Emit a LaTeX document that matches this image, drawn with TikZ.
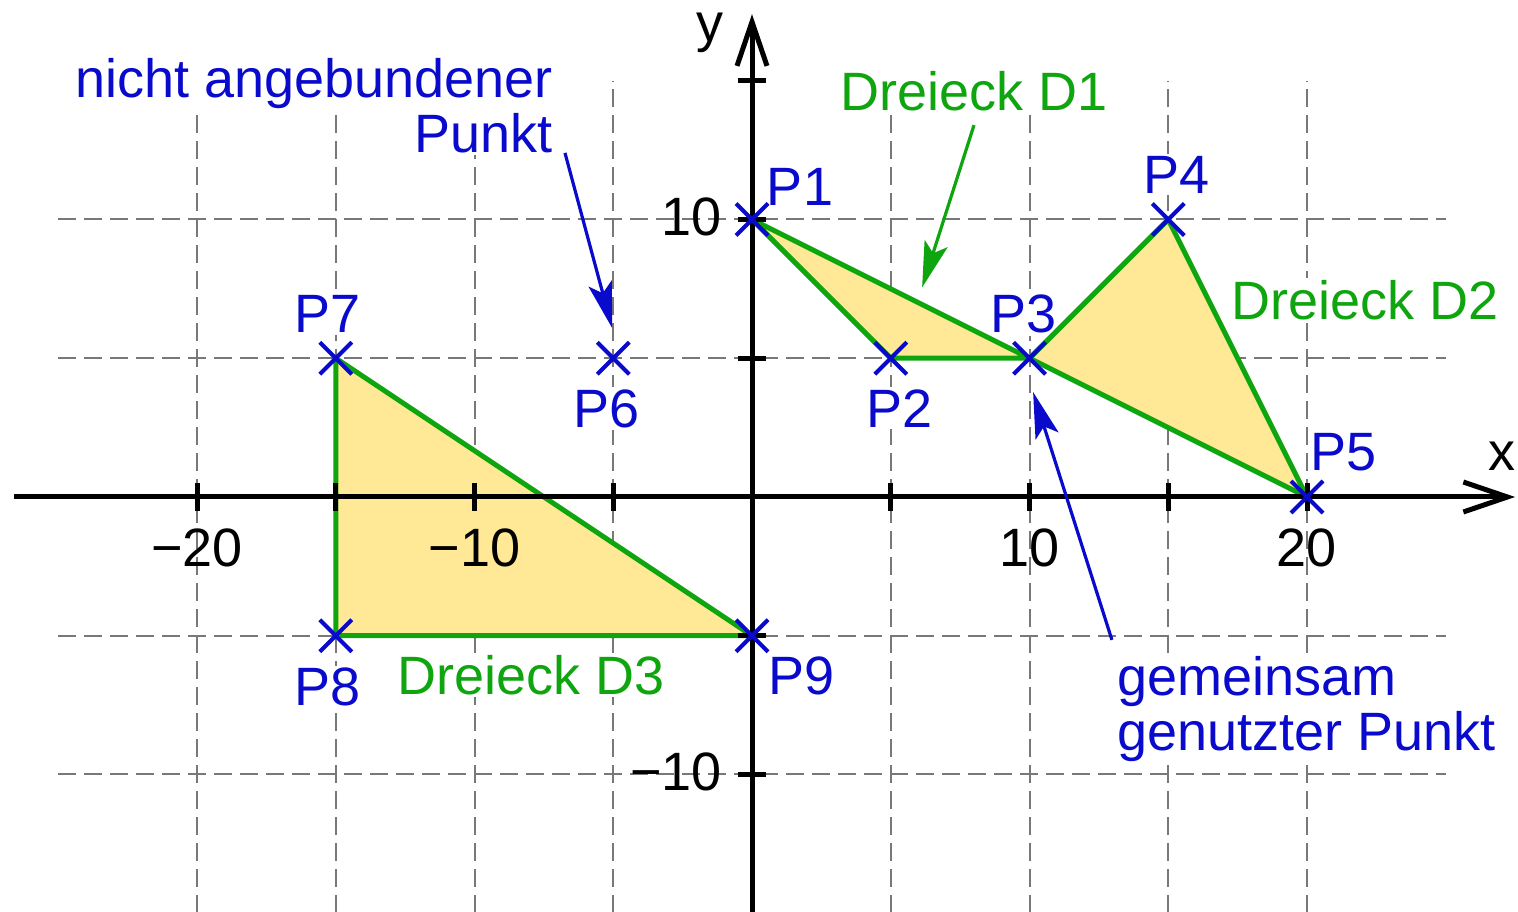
\documentclass[tikz,border=0pt]{standalone}
\usepackage{fontspec}
\setmainfont{Liberation Sans}
\usetikzlibrary{arrows.meta,shapes.misc}
\definecolor{pblue}{RGB}{10,10,205}
\definecolor{dgreen}{RGB}{15,165,15}
\definecolor{tfill}{RGB}{255,232,150}
\definecolor{gridgray}{RGB}{120,120,120}
\tikzset{
  gridline/.style={draw=gridgray,line width=1pt,dash pattern=on 9pt off 4pt},
  axisline/.style={line width=2.5pt,-{Straight Barb[length=22pt,width=15pt,line width=2.5pt]}},
  tickmark/.style={line width=2.5pt},
  tri/.style={draw=dgreen,fill=tfill,line width=2.5pt,line join=round},
  xmark/.style={cross out,draw=pblue,line width=2pt,minimum size=14pt,inner sep=0pt},
  plabel/.style={text=pblue,fill=white,inner sep=1pt},
  dlabel/.style={text=dgreen,fill=white,inner sep=1pt},
  ticklabel/.style={text=black,inner sep=0pt},
  bluearrow/.style={draw=pblue,line width=1.6pt,-{Stealth[length=23pt,width=12pt,inset=5pt]}},
  greenarrow/.style={draw=dgreen,line width=1.6pt,-{Stealth[length=23pt,width=12pt,inset=5pt]}}
}
\begin{document}
\begin{tikzpicture}[x=13.875pt,y=13.875pt,font=\fontsize{27}{32}\selectfont]
\useasboundingbox (-27.1,-14.955) rectangle (27.604,17.910);
% grid
\foreach \x in {-20,-15,-10,-5,5,10,15,20} \draw[gridline] (\x,-15) -- (\x,15);
\foreach \y in {-10,-5,5,10} \draw[gridline] (-25,\y) -- (25,\y);
% points
\coordinate (c1) at (0,10);
\coordinate (c2) at (5,5);
\coordinate (c3) at (10,5);
\coordinate (c4) at (15,10);
\coordinate (c5) at (20,0);
\coordinate (c6) at (-5,5);
\coordinate (c7) at (-15,5);
\coordinate (c8) at (-15,-5);
\coordinate (c9) at (0,-5);
% point labels
\node[plabel,anchor=base] (L1) at (1.73,10.50) {P1};
\node[plabel,anchor=base] (L2) at (5.33,2.52) {P2};
\node[plabel,anchor=base] (L3) at (9.78,5.91) {P3};
\node[plabel,anchor=base] (L4) at (15.28,10.95) {P4};
\node[plabel,anchor=base] (L5) at (21.30,0.94) {P5};
\node[plabel,anchor=base] (L6) at (-5.23,2.52) {P6};
\node[plabel,anchor=base] (L7) at (-15.28,5.91) {P7};
\node[plabel,anchor=base] (L8) at (-15.28,-7.53) {P8};
\node[plabel,anchor=base] (L9) at (1.80,-7.10) {P9};
% triangle labels
\node[dlabel,anchor=base] (D1) at (8.0,13.91) {Dreieck D1};
\node[dlabel,anchor=base] (D2) at (22.09,6.41) {Dreieck D2};
\node[dlabel,anchor=base] (D3) at (-7.96,-7.10) {Dreieck D3};
% annotation texts
\node[plabel,anchor=base east] (nA) at (-7.10,14.41) {nicht angebundener};
\node[plabel,anchor=base east] (nB) at (-7.10,12.43) {Punkt};
\node[plabel,anchor=base west] (gA) at (13.08,-7.14) {gemeinsam};
\node[plabel,anchor=base west] (gB) at (13.08,-9.12) {genutzter Punkt};
% triangles
\filldraw[tri] (c1) -- (c2) -- (c3) -- cycle;
\filldraw[tri] (c3) -- (c4) -- (c5) -- cycle;
\filldraw[tri] (c7) -- (c8) -- (c9) -- cycle;
% axes
\coordinate (xs) at (-26.6,0);
\coordinate (xe) at (27.5,0);
\coordinate (ys) at (0,-15);
\coordinate (ye) at (0,17.4);
\draw[axisline] (xs) -- (xe);
\draw[axisline] (ys) -- (ye);
\foreach \x in {-20,-15,-10,-5,5,10,15,20} \draw[tickmark] (\x,-0.5) -- (\x,0.5);
\foreach \y in {-10,-5,5,10,15} \draw[tickmark] (-0.5,\y) -- (0.5,\y);
% tick labels
\node[ticklabel,anchor=base] (tm20) at (-20,-2.52) {−20};
\node[ticklabel,anchor=base] (tm10) at (-10,-2.52) {−10};
\node[ticklabel,anchor=base] (tp10) at (10,-2.52) {10};
\node[ticklabel,anchor=base] (tp20) at (20,-2.52) {20};
\node[ticklabel,anchor=base east] (ty10) at (-1.08,9.44) {10};
\node[ticklabel,anchor=base east] (tym10) at (-1.08,-10.59) {−10};
\node[ticklabel,anchor=base] (xl) at (27.03,0.97) {x};
\node[ticklabel,anchor=base] (yl) at (-1.51,16.40) {y};
% crosses
\foreach \i in {1,...,9} \node[xmark] (P\i) at (c\i) {};
% annotation arrows
\coordinate (a1s) at (-6.74,12.40);
\coordinate (a1e) at (-5.04,6.09);
\coordinate (a2s) at (8.0,13.4);
\coordinate (a2e) at (6.13,7.55);
\coordinate (a3s) at (12.97,-5.15);
\coordinate (a3e) at (10.13,3.78);
\draw[bluearrow] (a1s) -- (a1e);
\draw[greenarrow] (a2s) -- (a2e);
\draw[bluearrow] (a3s) -- (a3e);
\end{tikzpicture}
\end{document}
